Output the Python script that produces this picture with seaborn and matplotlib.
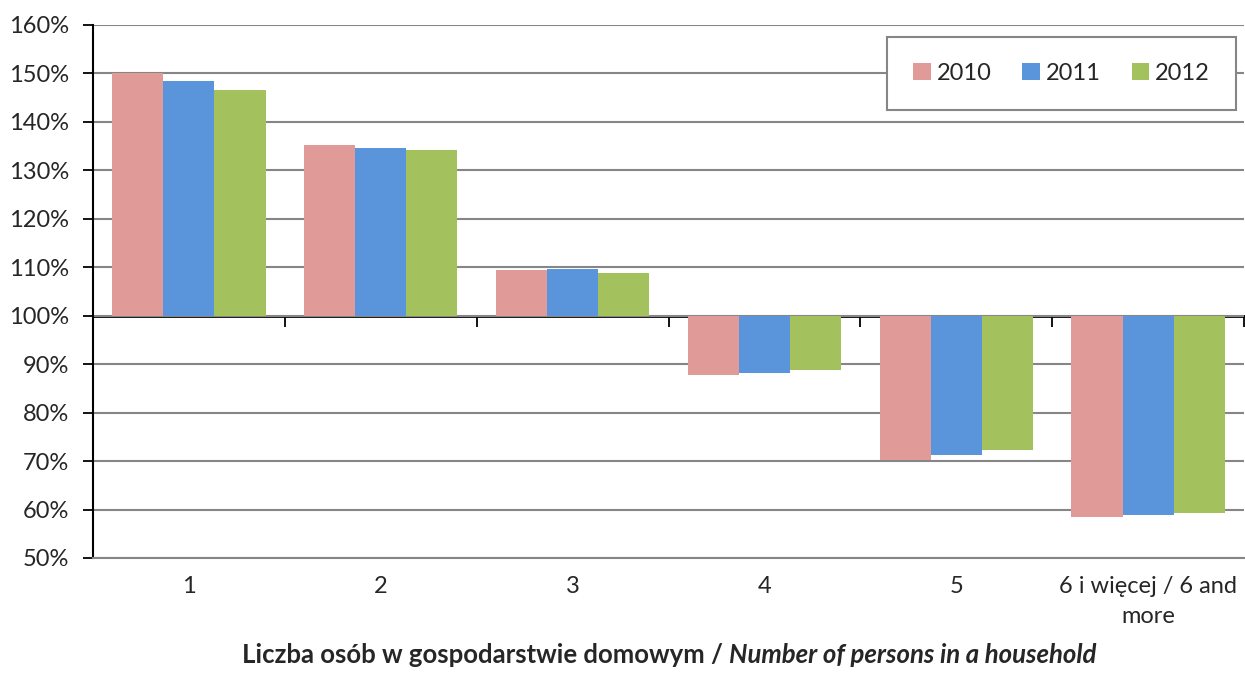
import matplotlib
matplotlib.use("Agg")
import matplotlib.pyplot as plt
import seaborn as sns
import pandas as pd

categories = ["1", "2", "3", "4", "5", "6 i więcej / 6 and\nmore"]
years = ["2010", "2011", "2012"]
values_2010 = [150.0, 135.3, 109.5, 87.7, 70.3, 58.5]
values_2011 = [148.5, 134.6, 109.7, 88.2, 71.3, 58.8]
values_2012 = [146.6, 134.3, 108.8, 88.7, 72.2, 59.2]
colors = ["#E09A98", "#5A95DC", "#A3C25E"]
base = 100

df = pd.DataFrame({"category": categories, "2010": values_2010,
                   "2011": values_2011, "2012": values_2012})
df = df.melt(id_vars="category", var_name="year", value_name="value")
# bars grow from the 100% line, so plot the difference from it
df["diff"] = df["value"] - base

sns.set_style("white")
plt.rcParams["font.family"] = ["Lato", "DejaVu Sans"]

fig = plt.figure(figsize=(12.45, 6.73), dpi=100)
ax = fig.add_axes([0.0747, 0.1709, 0.9245, 0.792])

sns.barplot(data=df, x="category", y="diff", hue="year", order=categories,
            hue_order=years, palette=dict(zip(years, colors)), width=0.8,
            linewidth=0, saturation=1, ax=ax)

ticks = list(range(50, 161, 10))
ax.set_ylim(50 - base, 160 - base)
ax.set_xlim(-0.5, 5.5)
ax.set_yticks([t - base for t in ticks])
ax.set_yticklabels([f"{t}%" for t in ticks])
ax.yaxis.grid(True, color="#868686", lw=1.5)
ax.set_axisbelow(True)
ax.tick_params(axis="y", left=True, length=7, width=1.3, color="black",
               pad=10, labelsize=17)
ax.tick_params(axis="x", bottom=False, length=0, pad=13, labelsize=17)
for lab in ax.get_xticklabels():
    lab.set_linespacing(1.55)
for s in ["top", "right"]:
    ax.spines[s].set_visible(False)
ax.spines["left"].set_color("black")
ax.spines["left"].set_linewidth(1.5)
ax.spines["bottom"].set_color("#868686")
ax.spines["bottom"].set_linewidth(1.5)
ax.set_xlabel("")
ax.set_ylabel("")

# baseline axis at 100% with tick marks between categories
sec = ax.secondary_xaxis((base - 50) / 110)
sec.set_xticks([0.5, 1.5, 2.5, 3.5, 4.5, 5.5])
sec.set_xticklabels([])
sec.tick_params(direction="out", length=8, width=1.3, color="black")
sec.spines["bottom"].set_color("black")
sec.spines["bottom"].set_linewidth(2)

leg = ax.legend(loc="upper right", bbox_to_anchor=(1236 / 1245, 1 - 37 / 673),
                bbox_transform=fig.transFigure, ncol=3, fontsize=17,
                frameon=True, fancybox=False, framealpha=1, edgecolor="#868686",
                handlelength=0.75, handleheight=0.75, handletextpad=0.25,
                columnspacing=1.3, borderpad=1.1, borderaxespad=0)
leg.get_frame().set_linewidth(1.5)

# x-axis title with bold and bold-italic parts
renderer = fig.canvas.get_renderer()
t1 = fig.text(0, 1 - 655 / 673, "Liczba osób w gospodarstwie domowym / ",
              fontsize=18.5, fontweight="bold", ha="left", va="center")
t2 = fig.text(0, 1 - 655 / 673, "Number of persons in a household",
              fontsize=18.5, fontweight="bold", fontstyle="italic",
              ha="left", va="center")
w1 = t1.get_window_extent(renderer).width
w2 = t2.get_window_extent(renderer).width
cx = (93 + 1245) / 2
start = cx - (w1 + w2) / 2
t1.set_x(start / 1245)
t2.set_x((start + w1) / 1245)

fig.savefig("out.png", dpi=100)
